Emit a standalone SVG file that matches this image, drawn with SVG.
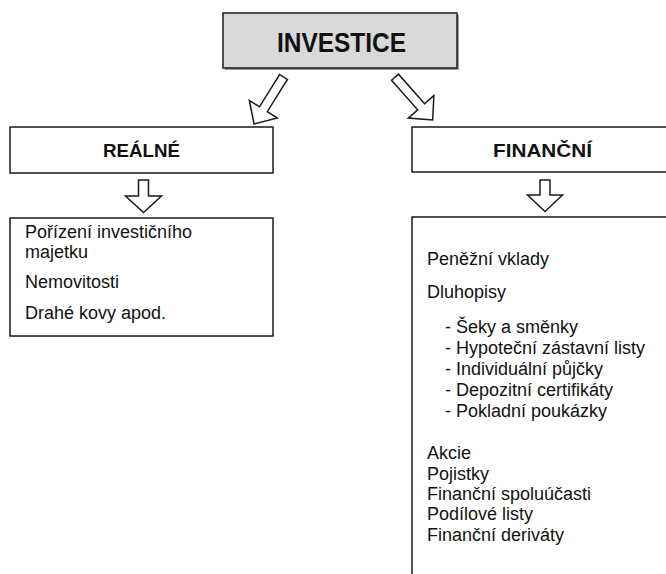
<svg xmlns="http://www.w3.org/2000/svg" width="666" height="574" viewBox="0 0 666 574">
<style>
.box{fill:#ffffff;stroke:#1a1a1a;stroke-width:1.5}
.top{fill:#d9d9d9;stroke:#1a1a1a;stroke-width:1.5}
.arr{fill:#ffffff;stroke:#1a1a1a;stroke-width:1.5;stroke-linejoin:miter}
.h{font-family:"Liberation Sans",Arial,sans-serif;font-weight:bold;fill:#111;text-anchor:middle}
.t{font-family:"Liberation Sans",Arial,sans-serif;font-size:18px;fill:#111}
</style>
<rect width="666" height="574" fill="#ffffff"/>
<g id="investice">
<rect x="225" y="15" width="234" height="55" fill="#9a9a9a"/>
<rect class="top" x="223" y="13" width="234" height="55"/>
<text class="h" x="341.5" y="52" font-size="27" textLength="129" lengthAdjust="spacingAndGlyphs">INVESTICE</text>
</g>
<g id="connectors">
<polygon class="arr" transform="translate(283.5,77) rotate(32)" points="-4.6,0 4.6,0 4.6,38 16.5,38 0,55.5 -16.5,38 -4.6,38"/>
<polygon class="arr" transform="translate(395,77.2) rotate(-41.4)" points="-4.6,0 4.6,0 4.6,39.5 17,39.5 0,57 -17,39.5 -4.6,39.5"/>
<polygon class="arr" points="138.5,180 148.5,180 148.5,196 161.5,196 143.5,212.5 125.5,196 138.5,196"/>
<polygon class="arr" points="540,180 550,180 550,195 562.5,195 545,211.5 527.5,195 540,195"/>
</g>
<g id="realne">
<rect class="box" x="10" y="127" width="263" height="46"/>
<text class="h" x="141.5" y="157" font-size="19" textLength="77" lengthAdjust="spacingAndGlyphs">REÁLNÉ</text>
</g>
<g id="financni">
<rect class="box" x="412" y="127" width="270" height="45"/>
<text class="h" x="542.5" y="157" font-size="19" textLength="99" lengthAdjust="spacingAndGlyphs">FINANČNÍ</text>
</g>
<g id="realne-list">
<rect class="box" x="10" y="218" width="263" height="118"/>
<text class="t" x="25" y="237.5">Pořízení investičního</text>
<text class="t" x="25" y="258">majetku</text>
<text class="t" x="25" y="288">Nemovitosti</text>
<text class="t" x="25" y="319">Drahé kovy apod.</text>
</g>
<g id="financni-list">
<rect class="box" x="412" y="217" width="270" height="380"/>
<text class="t" x="427" y="265">Peněžní vklady</text>
<text class="t" x="427" y="297.5">Dluhopisy</text>
<text class="t" x="445" y="333">- Šeky a směnky</text>
<text class="t" x="445" y="354">- Hypoteční zástavní listy</text>
<text class="t" x="445" y="375">- Individuální půjčky</text>
<text class="t" x="445" y="396">- Depozitní certifikáty</text>
<text class="t" x="445" y="417">- Pokladní poukázky</text>
<text class="t" x="427" y="459">Akcie</text>
<text class="t" x="427" y="479.5">Pojistky</text>
<text class="t" x="427" y="500">Finanční spoluúčasti</text>
<text class="t" x="427" y="520">Podílové listy</text>
<text class="t" x="427" y="540.5">Finanční deriváty</text>
</g>
</svg>
